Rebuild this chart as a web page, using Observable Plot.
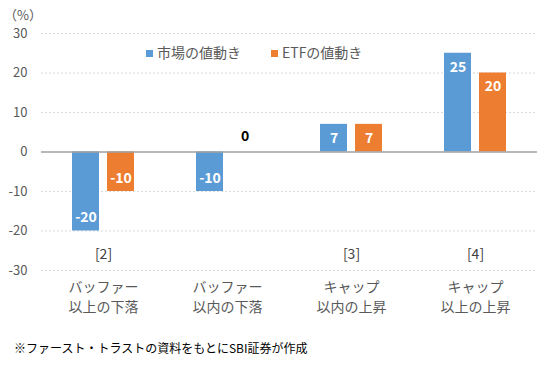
<!DOCTYPE html>
<html><head><meta charset="utf-8">
<script src="https://cdn.jsdelivr.net/npm/d3@7"></script>
<script src="https://cdn.jsdelivr.net/npm/@observablehq/plot@0.6"></script>
<style>
body{margin:0;background:#fff;font-family:"Noto Sans CJK JP","Noto Sans",sans-serif;}
#wrap{position:relative;width:549px;height:370px;overflow:hidden;}
#chart{position:absolute;left:0;top:0;}
#unit{position:absolute;left:4px;top:5px;font-size:13px;color:#595959;}
#legend{position:absolute;left:146px;top:42px;font-size:14px;color:#595959;display:flex;gap:30px;}
#legend span.sw{display:inline-block;width:7px;height:7px;margin-right:4px;vertical-align:middle;position:relative;top:-1px;}
#caption{position:absolute;left:14px;top:339px;font-size:12px;color:#000;}
</style></head><body>
<div id="wrap"><div id="chart"></div><div id="unit">（%）</div><div id="legend"></div><div id="caption">※ファースト・トラストの資料をもとにSBI証券が作成</div></div>
<script>
const categories = ["バッファー\n以上の下落","バッファー\n以内の下落","キャップ\n以内の上昇","キャップ\n以上の上昇"];
const seriesNames = ["市場の値動き","ETFの値動き"];
const marketValues = [-20,-10,7,25];
const etfValues = [-10,0,7,20];
const notes = ["[2]","","[3]","[4]"];
const yTicks = [-30,-20,-10,0,10,20,30];
const colors = ["#5B9BD5","#ED7D31"];

const data = categories.flatMap((c,i)=>[
  {cat:c, series:seriesNames[0], value:marketValues[i]},
  {cat:c, series:seriesNames[1], value:etfValues[i]}
]);
const noteData = categories.map((c,i)=>({cat:c, note:notes[i]})).filter(d=>d.note);

const font = '"Noto Sans CJK JP","Noto Sans",sans-serif';
const chart = Plot.plot({
  width:549, height:320,
  marginLeft:40, marginRight:11, marginTop:33, marginBottom:50,
  style:{fontFamily:font, fontSize:"13px", color:"#595959", background:"transparent"},
  fx:{domain:categories, padding:0, axis:null},
  x:{domain:seriesNames, paddingInner:0.222, paddingOuter:0.84, axis:null},
  y:{domain:[-30,30], ticks:yTicks, tickSize:0, tickPadding:14, tickFormat:d=>String(d), label:null},
  color:{domain:seriesNames, range:colors},
  marks:[
    Plot.ruleY(yTicks.filter(t=>t!==0), {stroke:"#d9d9d9", strokeDasharray:"2,2"}),
    Plot.barY(data,{fx:"cat", x:"series", y:"value", fill:"series"}),
    Plot.ruleY([0],{stroke:"#a0a0a0", strokeWidth:1.4}),
    Plot.text(data.filter(d=>d.value>0),{fx:"cat", x:"series", y:"value", text:d=>String(d.value), dy:14, fill:"white", fontWeight:"bold", fontSize:14}),
    Plot.text(data.filter(d=>d.value<0),{fx:"cat", x:"series", y:"value", text:d=>String(d.value), dy:-13, fill:"white", fontWeight:"bold", fontSize:14}),
    Plot.text(data.filter(d=>d.value===0),{fx:"cat", x:"series", y:"value", text:d=>String(d.value), dy:-15, fill:"black", fontWeight:"bold", fontSize:14}),
    Plot.text(categories,{fx:d=>d, text:d=>d, frameAnchor:"bottom", lineAnchor:"top", dy:7, lineHeight:1.43, fontSize:14, fill:"#595959"}),
    Plot.text(noteData,{fx:"cat", text:"note", frameAnchor:"bottom", dy:-12, fontSize:14, fill:"#404040"})
  ]
});
document.getElementById("chart").appendChild(chart);

const legend = document.getElementById("legend");
seriesNames.forEach((s,i)=>{
  const item = document.createElement("div");
  item.innerHTML = `<span class="sw" style="background:${colors[i]}"></span>${s}`;
  legend.appendChild(item);
});
</script>
</body></html>
